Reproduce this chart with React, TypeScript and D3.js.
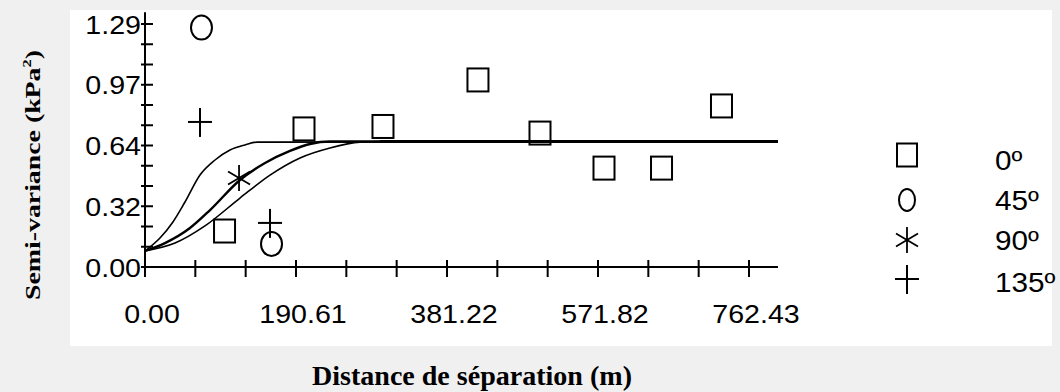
import React from "react";
import * as d3 from "d3";

// experimental semi-variogram points, per direction
const dist0 = [100.4, 200.7, 300.4, 420.3, 498.6, 579.4, 652.0, 727.7];
const gamma0 = [0.191, 0.733, 0.746, 0.993, 0.711, 0.525, 0.525, 0.855];
const dist45 = [71.3, 159.7];
const gamma45 = [1.271, 0.122];
const dist90 = [118.7];
const gamma90 = [0.472];
const dist135 = [69.4, 157.8];
const gamma135 = [0.77, 0.234];

// fitted model curves
const modelA_h = [0, 18.9, 35.3, 50.5, 69.4, 88.4, 107.3, 126.2, 141.4, 799];
const modelA_g = [0.085, 0.154, 0.239, 0.345, 0.488, 0.568, 0.621, 0.648, 0.663, 0.666];
const modelB_h = [0, 25.2, 56.8, 82.1, 119.9, 151.5, 183.0, 208.3, 233.5, 799];
const modelB_g = [0.085, 0.127, 0.207, 0.302, 0.462, 0.552, 0.616, 0.653, 0.666, 0.666];
const modelC_h = [0, 37.9, 75.7, 119.9, 157.8, 195.7, 233.5, 271.4, 296.6, 799];
const modelC_g = [0.085, 0.127, 0.218, 0.366, 0.488, 0.579, 0.632, 0.663, 0.666, 0.666];

const xTickLabels = ["0.00", "190.61", "381.22", "571.82", "762.43"];
const yTickLabels = ["0.00", "0.32", "0.64", "0.97", "1.29"];
const legendLabels = ["0º", "45º", "90º", "135º"];

const W = 1060, H = 392;
const xMax = 762.43, yMax = 1.29;

const x = d3.scaleLinear().domain([0, xMax]).range([145, 749]);
const y = d3.scaleLinear().domain([0, yMax]).range([267, 24]);

const xMinor = d3.range(13).map(i => (i * xMax) / 12);
const yMinor = d3.range(13).map(i => (i * yMax) / 12);

const sans = "'Liberation Sans', Arial, sans-serif";
const serif = "'Liberation Serif', 'Times New Roman', serif";

const Square = ({ cx, cy, w = 21, h = 23 }: any) => (
  <rect x={cx - w / 2} y={cy - h / 2} width={w} height={h} fill="none" stroke="#000" strokeWidth={2} />
);
const Ring = ({ cx, cy, rx = 10.5, ry = 12 }: any) => (
  <ellipse cx={cx} cy={cy} rx={rx} ry={ry} fill="none" stroke="#000" strokeWidth={2} />
);
const Plus = ({ cx, cy }: any) => (
  <g stroke="#000" strokeWidth={2}>
    <line x1={cx - 12} x2={cx + 12} y1={cy} y2={cy} />
    <line x1={cx} x2={cx} y1={cy - 14} y2={cy + 15} />
  </g>
);
const Star = ({ cx, cy }: any) => (
  <g stroke="#000" strokeWidth={1.8}>
    <line x1={cx} x2={cx} y1={cy - 13} y2={cy + 13} />
    <line x1={cx - 11} x2={cx + 11} y1={cy - 6.5} y2={cy + 6.5} />
    <line x1={cx - 11} x2={cx + 11} y1={cy + 6.5} y2={cy - 6.5} />
  </g>
);

export default function App() {
  const line = d3
    .line<[number, number]>()
    .x(d => x(d[0]))
    .y(d => y(d[1]))
    .curve(d3.curveMonotoneX);

  const models = [
    { h: modelA_h, g: modelA_g, w: 1.6 },
    { h: modelB_h, g: modelB_g, w: 2.4 },
    { h: modelC_h, g: modelC_g, w: 1.6 },
  ];

  return (
    <svg width={W} height={H} style={{ position: "fixed", left: 0, top: 0 }}>
      <rect width={W} height={H} fill="#f0f0f0" />
      <rect x={70} y={10} width={982} height={336} fill="#fff" />

      {/* axes */}
      <g stroke="#000" strokeWidth={2}>
        <line x1={x(0)} x2={x(799)} y1={y(0)} y2={y(0)} />
        <line x1={x(0)} x2={x(0)} y1={y(0)} y2={y(1.353)} />
        {xMinor.map((v, i) => (
          <line key={"xt" + i} x1={x(v)} x2={x(v)} y1={y(0) - 7} y2={y(0) + 10} />
        ))}
        {yMinor.map((v, i) => (
          <line key={"yt" + i} x1={x(0) - 4} x2={x(0) + 8} y1={y(v)} y2={y(v)} />
        ))}
      </g>

      {xTickLabels.map((t, i) => (
        <text
          key={"xl" + i}
          transform={`translate(${x(xMinor[i * 3]) + 7},323) scale(1.1,1)`}
          textAnchor="middle"
          fontFamily={sans}
          fontSize={26}
          fill="#000"
        >
          {t}
        </text>
      ))}
      {yTickLabels.map((t, i) => (
        <text
          key={"yl" + i}
          transform={`translate(141,${y(yMinor[i * 3]) + 9.5}) scale(1.1,1)`}
          textAnchor="end"
          fontFamily={sans}
          fontSize={26}
          fill="#000"
        >
          {t}
        </text>
      ))}

      {/* model curves */}
      {models.map((m, i) => (
        <path
          key={"m" + i}
          d={line(m.h.map((h, j) => [h, m.g[j]] as [number, number])) || ""}
          fill="none"
          stroke="#000"
          strokeWidth={m.w}
        />
      ))}
      {/* common sill, drawn heavier */}
      <line x1={x(modelC_h[8])} x2={x(799)} y1={y(0.666)} y2={y(0.666)} stroke="#000" strokeWidth={3} />

      {/* experimental points */}
      {dist0.map((d, i) => <Square key={"s" + i} cx={x(d)} cy={y(gamma0[i])} />)}
      {dist45.map((d, i) => <Ring key={"c" + i} cx={x(d)} cy={y(gamma45[i])} />)}
      {dist90.map((d, i) => <Star key={"a" + i} cx={x(d)} cy={y(gamma90[i])} />)}
      {dist135.map((d, i) => <Plus key={"p" + i} cx={x(d)} cy={y(gamma135[i])} />)}

      {/* legend */}
      <Square cx={907} cy={155} w={20} h={23} />
      <Ring cx={907} cy={200} rx={8} ry={11} />
      <Star cx={907} cy={240} />
      <Plus cx={907} cy={279} />
      {legendLabels.map((t, i) => (
        <text
          key={"lg" + i}
          transform={`translate(995,${[170, 210, 250, 292][i]}) scale(1.1,1)`}
          fontFamily={sans}
          fontSize={27}
          fill="#000"
        >
          {t}
        </text>
      ))}

      {/* axis titles */}
      <text
        x={472}
        y={385}
        textAnchor="middle"
        fontFamily={serif}
        fontWeight="bold"
        fontSize={27}
        textLength={320}
        lengthAdjust="spacingAndGlyphs"
        fill="#000"
      >
        Distance de séparation (m)
      </text>
      <text
        transform="translate(40,175) rotate(-90)"
        textAnchor="middle"
        fontFamily={serif}
        fontWeight="bold"
        fontSize={22}
        textLength={250}
        lengthAdjust="spacingAndGlyphs"
        fill="#000"
      >
        Semi-variance (kPa<tspan dy={-9} fontSize={13}>2</tspan><tspan dy={9}>)</tspan>
      </text>
    </svg>
  );
}
